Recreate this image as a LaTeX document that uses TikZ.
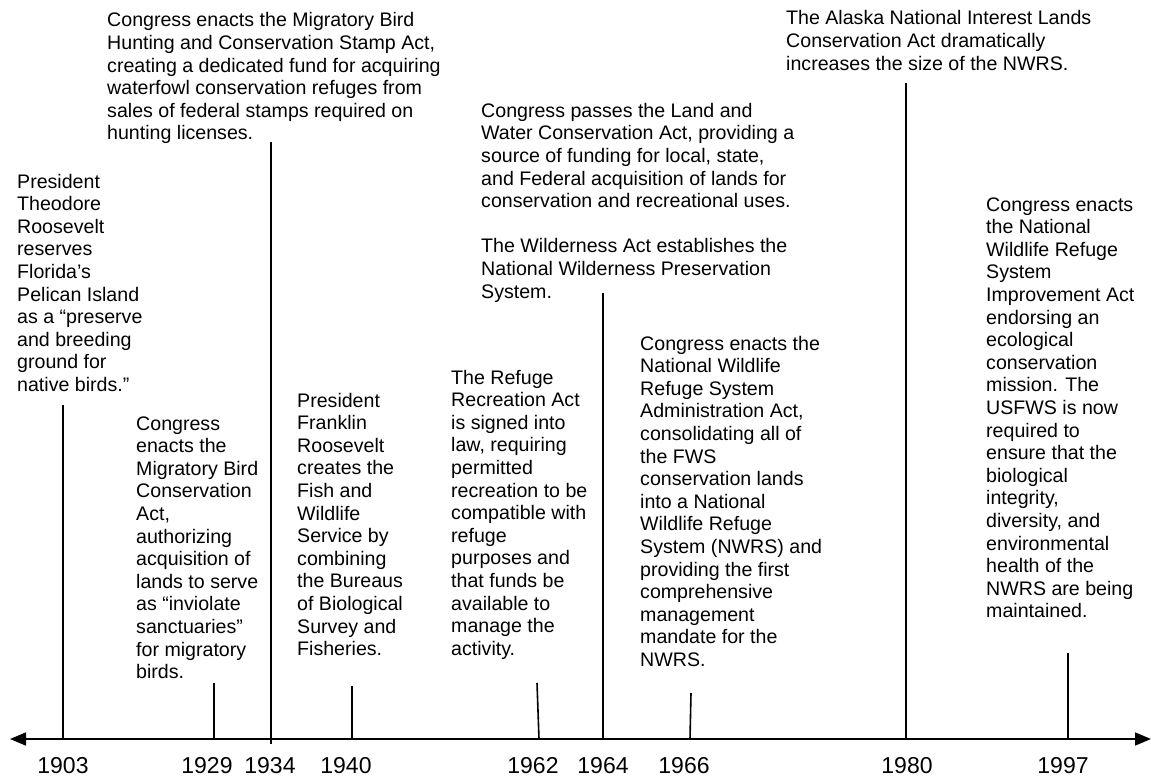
\documentclass[tikz,border=0pt]{standalone}
\usepackage{fontspec}
\setmainfont{Liberation Sans}
\usetikzlibrary{arrows.meta}
\begin{document}
\begin{tikzpicture}[x=1pt,y=-1pt,
  evt/.style={anchor=base west,inner sep=0pt,align=left,font=\fontsize{19.6}{22.6}\selectfont},
  yr/.style={anchor=base,inner sep=0pt,font=\fontsize{23}{26}\selectfont},
  tick/.style={line width=1.6pt},
  axis/.style={line width=1.6pt,{Triangle[length=16pt,width=13pt]}-{Triangle[length=16pt,width=13pt]}}]
\useasboundingbox (0,0) rectangle (1151,778);
% axis
\coordinate (axl) at (10,739);
\coordinate (axr) at (1151,739);
\draw[axis] (axl) -- (axr);
% ticks
\coordinate (k1903b) at (63,739);   \coordinate (k1903t) at (63,405);
\coordinate (k1929b) at (214,739);  \coordinate (k1929t) at (214,683);
\coordinate (k1934b) at (271,744);  \coordinate (k1934t) at (271,142);
\coordinate (k1940b) at (352,739);  \coordinate (k1940t) at (352,686);
\coordinate (k1962b) at (539,739);  \coordinate (k1962t) at (537,683);
\coordinate (k1964b) at (603,739);  \coordinate (k1964t) at (603,293);
\coordinate (k1966b) at (690,739);  \coordinate (k1966t) at (691,693);
\coordinate (k1980b) at (906,739);  \coordinate (k1980t) at (906,83);
\coordinate (k1997b) at (1068,739); \coordinate (k1997t) at (1068,653);
\foreach \y in {1903,1929,1934,1940,1962,1964,1966,1980,1997}
  \draw[tick] (k\y b) -- (k\y t);
% years
\node[yr] (y1903) at (63,773) {1903};
\node[yr] (y1929) at (207,773) {1929};
\node[yr] (y1934) at (270,773) {1934};
\node[yr] (y1940) at (346,773) {1940};
\node[yr] (y1962) at (533,773) {1962};
\node[yr] (y1964) at (603,773) {1964};
\node[yr] (y1966) at (684,773) {1966};
\node[yr] (y1980) at (907,773) {1980};
\node[yr] (y1997) at (1063,773) {1997};
% events (anchored at the baseline of their last line)
\node[evt] (e1903) at (17,391.4) {President\\Theodore\\Roosevelt\\reserves\\Florida’s\\Pelican Island\\as a “preserve\\and breeding\\ground for\\native birds.”};
\node[evt] (e1929) at (136,678.6) {Congress\\enacts the\\Migratory Bird\\Conservation\\Act,\\authorizing\\acquisition of\\lands to serve\\as “inviolate\\sanctuaries”\\for migratory\\birds.};
\node[evt] (e1934) at (107,140) {Congress enacts the Migratory Bird\\Hunting and Conservation Stamp Act,\\creating a dedicated fund for acquiring\\waterfowl conservation refuges from\\sales of federal stamps required on\\hunting licenses.};
\node[evt] (e1940) at (297,655.6) {President\\Franklin\\Roosevelt\\creates the\\Fish and\\Wildlife\\Service by\\combining\\the Bureaus\\of Biological\\Survey and\\Fisheries.};
\node[evt] (e1962) at (451,655.2) {The Refuge\\Recreation Act\\is signed into\\law, requiring\\permitted\\recreation to be\\compatible with\\refuge\\purposes and\\that funds be\\available to\\manage the\\activity.};
\node[evt] (e1964) at (481,298) {Congress passes the Land and\\Water Conservation Act, providing a\\source of funding for local, state,\\and Federal acquisition of lands for\\conservation and recreational uses.\\[22.6pt]The Wilderness Act establishes the\\National Wilderness Preservation\\System.};
\node[evt] (e1966) at (640,666.4) {Congress enacts the\\National Wildlife\\Refuge System\\Administration Act,\\consolidating all of\\the FWS\\conservation lands\\into a National\\Wildlife Refuge\\System (NWRS) and\\providing the first\\comprehensive\\management\\mandate for the\\NWRS.};
\node[evt] (e1980) at (786,70.2) {The Alaska National Interest Lands\\Conservation Act dramatically\\increases the size of the NWRS.};
\node[evt] (e1997) at (986,617.8) {Congress enacts\\the National\\Wildlife Refuge\\System\\Improvement Act\\endorsing an\\ecological\\conservation\\mission. The\\USFWS is now\\required to\\ensure that the\\biological\\integrity,\\diversity, and\\environmental\\health of the\\NWRS are being\\maintained.};
\end{tikzpicture}
\end{document}
